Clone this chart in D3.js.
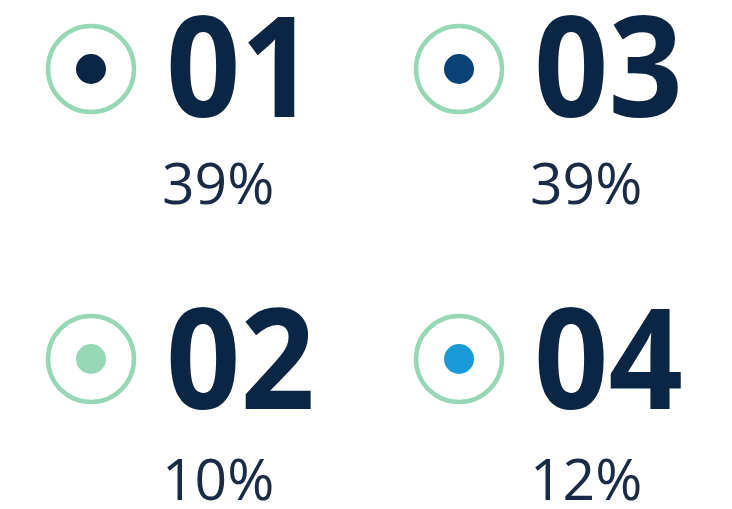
<!DOCTYPE html>
<html lang="en">
<head>
  <meta charset="UTF-8">
  <title>Legend stats</title>
  <script src="https://d3js.org/d3.v7.min.js"></script>
  <style>
    body { margin: 0; background: #fff; font-family: "Open Sans", sans-serif; }
    .num { font-weight: 700; fill: #0b2545; }
    .pct { font-weight: 400; fill: #1a2b47; }
  </style>
</head>
<body>
  <svg width="732" height="509"></svg>

  <script>
    const labels = ["01", "02", "03", "04"];
    const values = [39, 10, 39, 12];
    const dotColors = ["#0b2545", "#96d8b5", "#0b4278", "#1b9ad8"];
    const cols = [0, 0, 1, 1];
    const rows = [0, 1, 0, 1];

    const data = labels.map((d, i) => ({
      label: d, value: values[i], color: dotColors[i], col: cols[i], row: rows[i]
    }));

    const svg = d3.select("svg");

    const x = d3.scaleLinear().domain([0, 1]).range([91, 459]);
    const y = d3.scaleLinear().domain([0, 1]).range([69, 359]);

    const item = svg.selectAll(".item")
      .data(data)
      .enter().append("g")
        .attr("class", "item")
        .attr("transform", d => `translate(${x(d.col)},${y(d.row)})`);

    item.append("circle")
        .attr("r", 43)
        .attr("fill", "none")
        .attr("stroke", "#96d8b5")
        .attr("stroke-width", 4.5);

    item.append("circle")
        .attr("r", 15)
        .attr("fill", d => d.color);

    // big numbers are a little narrower than plain Open Sans Bold
    item.append("text")
        .attr("class", "num")
        .attr("transform", d => `translate(75,${d.row === 0 ? 48 : 50}) scale(0.93,1)`)
        .attr("font-size", 140)
        .text(d => d.label);

    item.append("text")
        .attr("class", "pct")
        .attr("x", 71)
        .attr("y", d => d.row === 0 ? 135 : 141)
        .attr("font-size", 57)
        .text(d => d.value + "%");
  </script>
</body>
</html>
